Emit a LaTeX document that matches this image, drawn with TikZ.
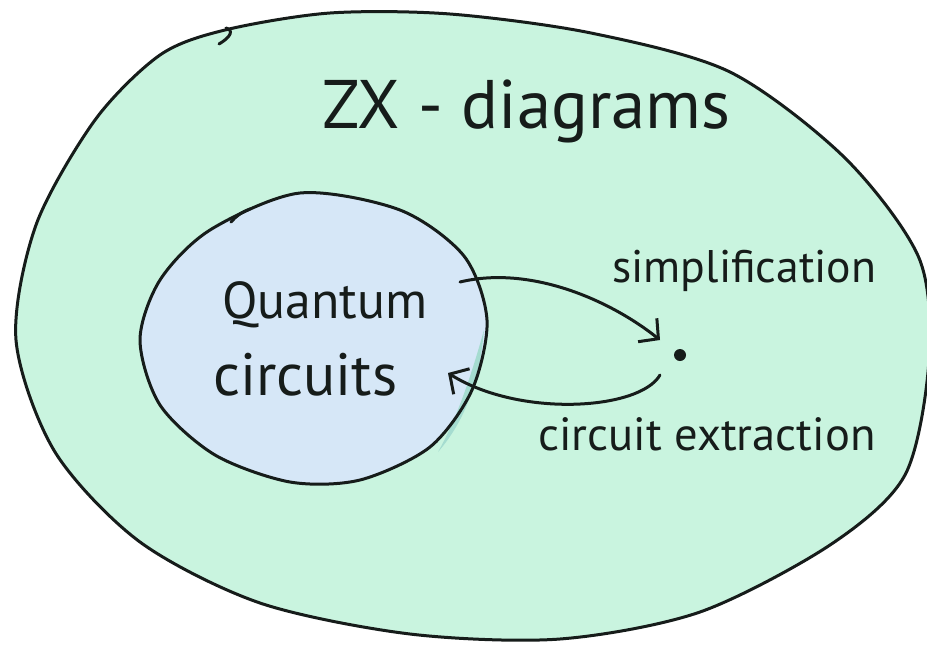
\documentclass[tikz,border=0pt]{standalone}
\usepackage{fontspec}
\setmainfont{PT Sans}
\usetikzlibrary{arrows.meta}
\definecolor{zxgreen}{RGB}{201,244,223}
\definecolor{qblue}{RGB}{214,231,247}
\definecolor{tealshade}{RGB}{165,220,208}
\definecolor{ink}{RGB}{22,28,26}
\begin{document}
\begin{tikzpicture}[x=0.5pt,y=-0.5pt, line cap=round, line join=round,
  inkline/.style={draw=ink, line width=1.5pt},
  labeltext/.style={text=ink, inner sep=0pt, anchor=base west},
  arrowline/.style={inkline, -{Straight Barb[length=7pt,width=15pt,line width=1.5pt]}}]
\useasboundingbox (0,0) rectangle (927,644);
\fill[white] (0,0) rectangle (927,644);
% outer blob: ZX-diagrams
\path[fill=zxgreen, inkline] plot[smooth cycle] coordinates {
  (225,30) (330,13) (450,14) (591,33) (730,72) (845,158) (919,258)
  (929,360) (905,475) (830,545) (700,612) (560,639) (410,634) (260,603)
  (140,542) (55,452) (16,340) (36,225) (95,120) (160,55)};
\draw[inkline] (226,28) .. controls (234,30) and (231,37) .. (219,44);
% inner blob: quantum circuits
\path[fill=qblue] plot[smooth cycle] coordinates {
  (300,193) (400,210) (464,256) (487,320) (472,390) (430,447) (360,480)
  (290,482) (215,455) (160,405) (140,340) (160,280) (210,230)};
\fill[tealshade] (484,330) .. controls (480,378) and (466,420) .. (438,452)
  .. controls (456,420) and (470,380) .. (484,330);
\draw[inkline] plot[smooth cycle] coordinates {
  (300,193) (400,210) (464,256) (487,320) (472,390) (430,447) (360,480)
  (290,482) (215,455) (160,405) (140,340) (160,280) (210,230)};
\draw[inkline] (250,209) .. controls (242,212) and (236,216) .. (231,222);
% labels
\node[labeltext] (title) at (322,128) {\resizebox{204pt}{!}{ZX - diagrams}};
\node[labeltext] (quantum) at (222,318) {\resizebox{102.5pt}{!}{Quantum}};
\node[labeltext] (circuits) at (213,395) {\resizebox{92pt}{!}{circuits}};
\node[labeltext] (simp) at (612,282) {\resizebox{132pt}{!}{simplification}};
\node[labeltext] (extr) at (538,450) {\resizebox{168.5pt}{!}{circuit extraction}};
% point and arrows
\node[circle, fill=ink, inner sep=0pt, minimum size=6pt] (dot) at (680,355) {};
\coordinate (simpstart) at (460,282);
\coordinate (simpend) at (660,340);
\coordinate (extrstart) at (660,375);
\coordinate (extrend) at (448,373);
\draw[arrowline] (simpstart) .. controls (530,265) and (610,300) .. (simpend);
\draw[arrowline] (extrstart) .. controls (640,410) and (520,418) .. (extrend);
\end{tikzpicture}
\end{document}
